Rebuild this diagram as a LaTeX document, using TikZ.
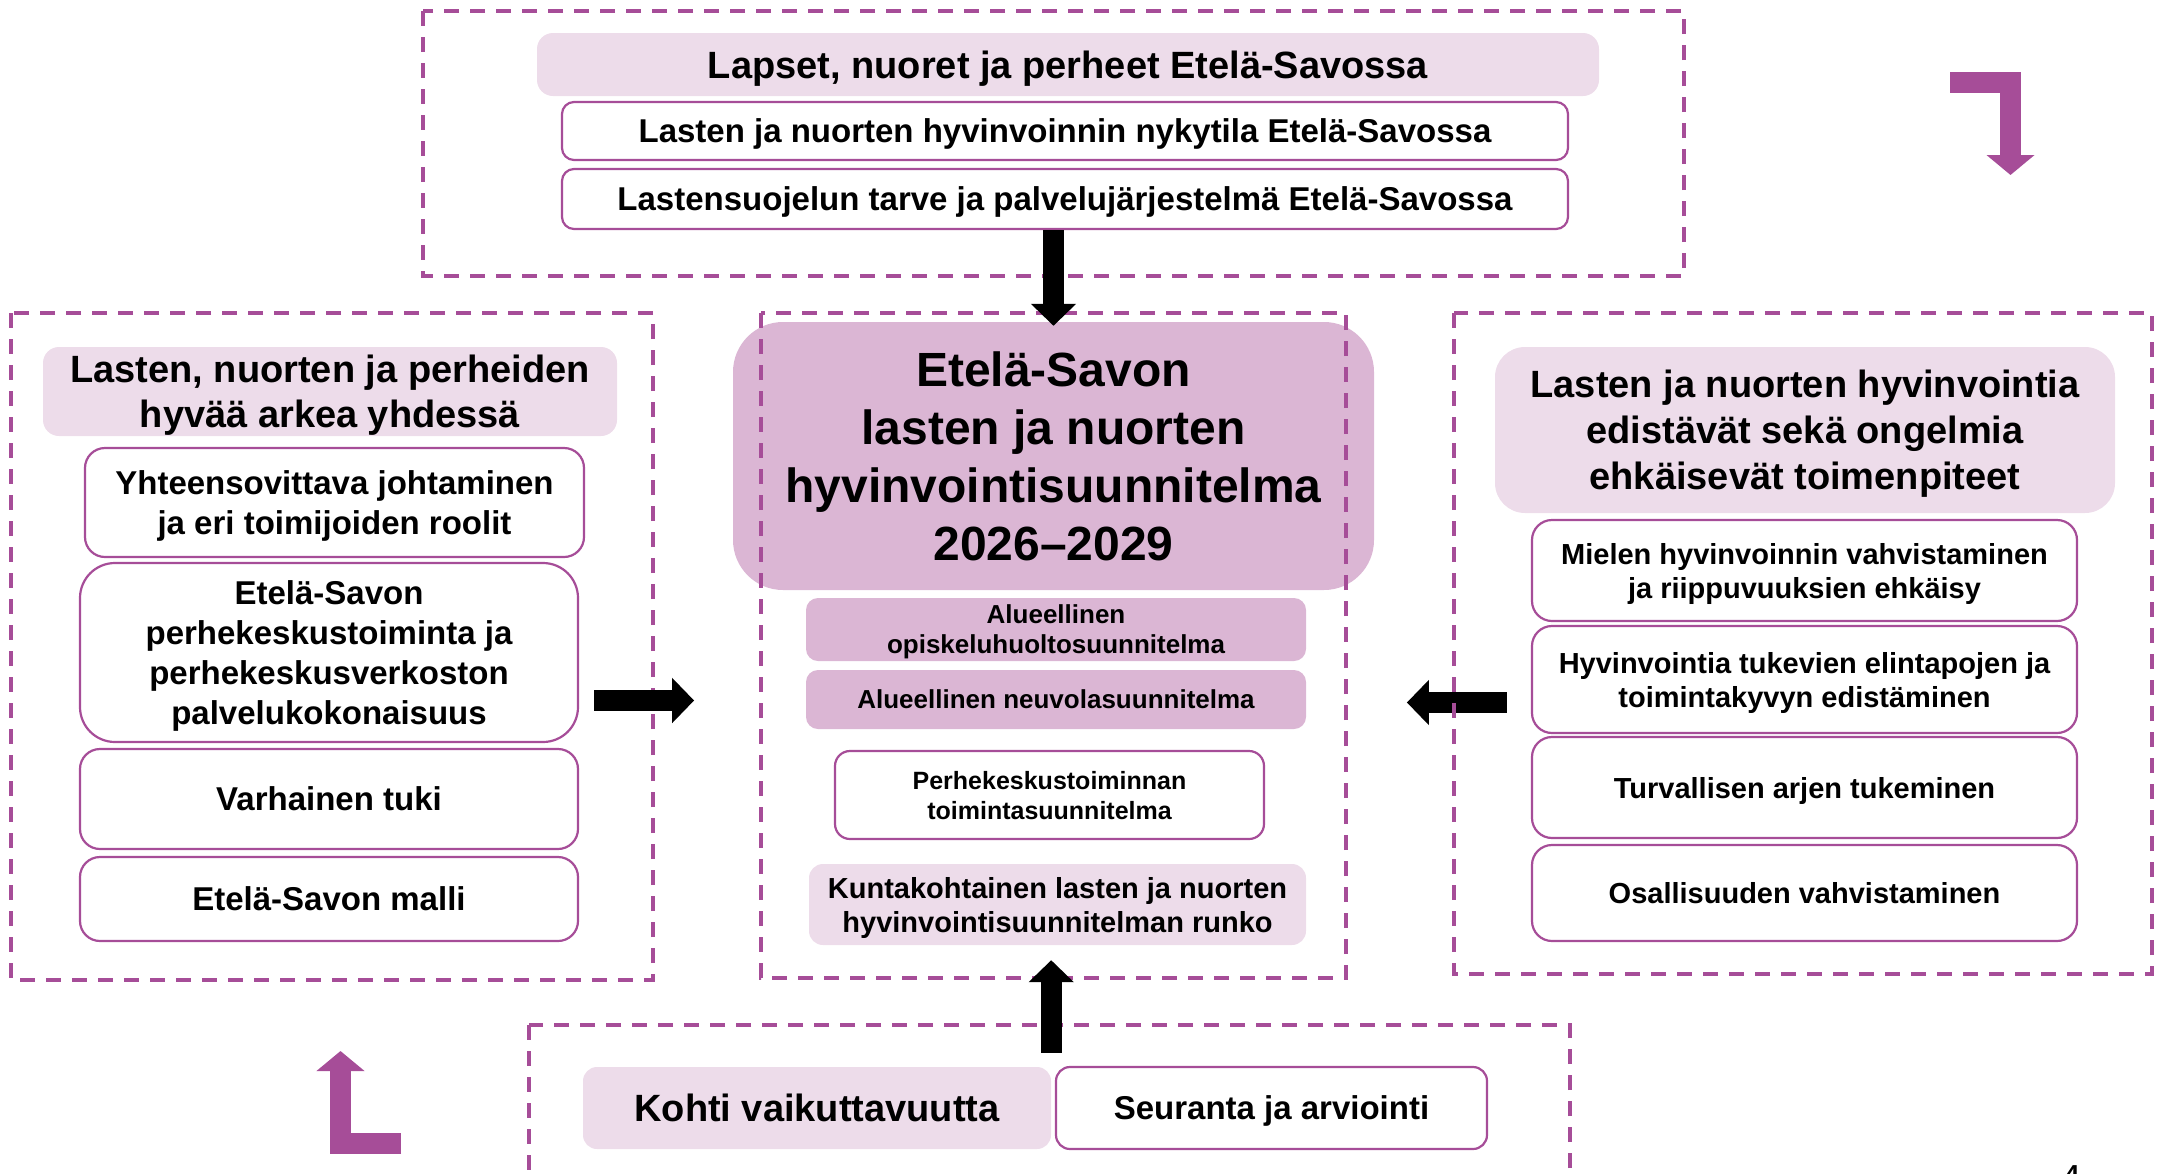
\documentclass[tikz,border=0pt]{standalone}
\usepackage{fontspec}
\setmainfont{Liberation Sans}
\usetikzlibrary{arrows.meta}
\definecolor{esviolet}{RGB}{166,77,152}
\definecolor{eslight}{RGB}{237,220,234}
\definecolor{esmid}{RGB}{219,182,212}

\begin{document}
\begin{tikzpicture}[x=1pt,y=-1pt,
  every node/.style={inner sep=0pt,align=center,text depth=0pt},
  frame/.style={draw=esviolet,line width=4pt,dash pattern=on 15pt off 11pt},
  headbox/.style={fill=eslight,rounded corners=16pt},
  midbox/.style={fill=esmid,rounded corners=12pt},
  linebox/.style={draw=esviolet,line width=2.2pt,fill=white,rounded corners=20pt},
  titlefont/.style={font=\fontsize{48}{58}\selectfont\bfseries},
  headfont/.style={font=\fontsize{38}{45}\selectfont\bfseries},
  boxfont/.style={font=\fontsize{33}{40}\selectfont\bfseries},
  itemfont/.style={font=\fontsize{29}{34}\selectfont\bfseries},
  smallfont/.style={font=\fontsize{26}{30}\selectfont\bfseries},
  blockarrow/.style={line width=21pt,-{Triangle[length=22pt,width=44pt]}},
  bendarrow/.style={draw=esviolet,line width=21pt,line join=miter,-{Triangle[length=20pt,width=47pt,fill=esviolet]}}
]
\useasboundingbox (0,0) rectangle (2161,1173);
\clip (0,0) rectangle (2161,1173);

\node[headbox,headfont,minimum width=1062pt,minimum height=63pt] (t0) at (1068,64.5) {Lapset, nuoret ja perheet Etelä-Savossa};
\node[linebox,boxfont,rounded corners=12pt,minimum width=1006pt,minimum height=58pt] (t1) at (1065,131) {Lasten ja nuorten hyvinvoinnin nykytila Etelä-Savossa};
\node[linebox,boxfont,rounded corners=12pt,minimum width=1006pt,minimum height=60pt] (t2) at (1065,199) {Lastensuojelun tarve ja palvelujärjestelmä Etelä-Savossa};

\node[headbox,headfont,minimum width=574pt,minimum height=89pt] (l0) at (330,391.5) {Lasten, nuorten ja perheiden\\hyvää arkea yhdessä};
\node[linebox,boxfont,minimum width=499pt,minimum height=109pt] (l1) at (334.5,502.5) {Yhteensovittava johtaminen\\ja eri toimijoiden roolit};
\node[linebox,boxfont,rounded corners=35pt,minimum width=498pt,minimum height=179pt] (l2) at (329,652.5) {Etelä-Savon\\perhekeskustoiminta ja\\perhekeskusverkoston\\palvelukokonaisuus};
\node[linebox,boxfont,minimum width=498pt,minimum height=100pt] (l3) at (329,799) {Varhainen tuki};
\node[linebox,boxfont,minimum width=498pt,minimum height=84pt] (l4) at (329,899) {Etelä-Savon malli};

\node[midbox,titlefont,rounded corners=50pt,minimum width=641pt,minimum height=268pt] (c0) at (1053.5,456) {Etelä-Savon\\lasten ja nuorten\\hyvinvointisuunnitelma\\2026–2029};
\node[midbox,smallfont,minimum width=500pt,minimum height=63pt] (c1) at (1056,629.5) {Alueellinen\\opiskeluhuoltosuunnitelma};
\node[midbox,smallfont,minimum width=500pt,minimum height=59pt] (c2) at (1056,699.5) {Alueellinen neuvolasuunnitelma};
\node[linebox,font=\fontsize{25}{30}\selectfont\bfseries,rounded corners=15pt,minimum width=429pt,minimum height=88pt] (c3) at (1049.5,795) {Perhekeskustoiminnan\\toimintasuunnitelma};
\node[headbox,itemfont,rounded corners=14pt,minimum width=497pt,minimum height=81pt] (c4) at (1057.5,904.5) {Kuntakohtainen lasten ja nuorten\\hyvinvointisuunnitelman runko};

\node[headbox,font=\fontsize{38}{46}\selectfont\bfseries,rounded corners=30pt,minimum width=620pt,minimum height=166pt] (r0) at (1805,430) {Lasten ja nuorten hyvinvointia\\edistävät sekä ongelmia\\ehkäisevät toimenpiteet};
\node[linebox,itemfont,minimum width=545pt,minimum height=101pt] (r1) at (1804.5,570.5) {Mielen hyvinvoinnin vahvistaminen\\ja riippuvuuksien ehkäisy};
\node[linebox,itemfont,minimum width=545pt,minimum height=107pt] (r2) at (1804.5,679.5) {Hyvinvointia tukevien elintapojen ja\\toimintakyvyn edistäminen};
\node[linebox,itemfont,minimum width=545pt,minimum height=101pt] (r3) at (1804.5,787.5) {Turvallisen arjen tukeminen};
\node[linebox,itemfont,minimum width=545pt,minimum height=96pt] (r4) at (1804.5,893) {Osallisuuden vahvistaminen};

\node[headbox,headfont,rounded corners=14pt,minimum width=468pt,minimum height=82pt] (b1) at (817,1108) {Kohti vaikuttavuutta};
\node[linebox,boxfont,rounded corners=14pt,minimum width=431pt,minimum height=82pt] (b2) at (1271.5,1108) {Seuranta ja arviointi};

\node[anchor=north,font=\fontsize{26}{26}\selectfont\bfseries] (pg) at (2072,1165) {4};

\draw[blockarrow] (r2.west |- c2.east) ++(-24,3) -- ++(-100,0);

\draw[frame] (423,11) rectangle (1684,276);
\draw[frame] (11,313) rectangle (653,980);
\draw[frame] (761,313) rectangle (1346,978);
\draw[frame] (1454,313) rectangle (2152,974);
\draw[frame] (529,1025) rectangle (1570,1200);

\draw[blockarrow,shorten >=-4pt] (t2.south -| c0.north) -- (c0.north);
\draw[blockarrow,shorten >=15pt] (b1.north east) ++(0,-14) -- (b1.north east |- c4.south);
\draw[blockarrow] (l2.east |- c2.west) ++(15,1) -- ++(100,0);

\draw[bendarrow] (1950,82.5) -- (2010.5,82.5) -- (2010.5,175);
\draw[bendarrow] (401,1143.5) -- (340.5,1143.5) -- (340.5,1051);
\end{tikzpicture}
\end{document}
